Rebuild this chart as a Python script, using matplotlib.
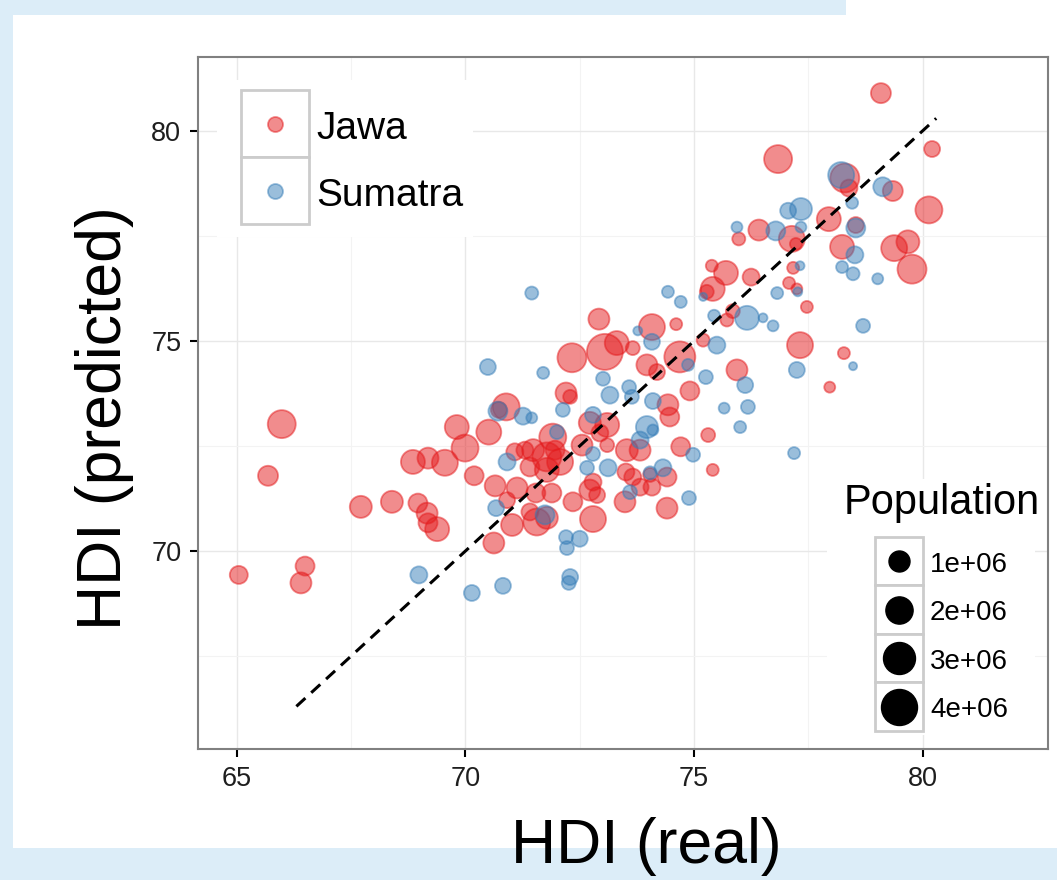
import numpy as np
import matplotlib
matplotlib.use("Agg")
import matplotlib.pyplot as plt
from matplotlib.patches import Rectangle

plt.rcParams['font.family'] = ['Liberation Sans', 'DejaVu Sans']

# HDI real vs predicted per district, population in millions
jawa_real = [65.98, 65.68, 67.71, 68.39, 65.04, 66.49, 66.40, 68.96, 69.16, 69.18,
             69.38, 68.85, 69.18, 69.55, 69.99, 69.81, 70.19, 70.51, 70.89, 70.73,
             72.20, 72.29, 70.65, 70.62, 71.13, 70.91, 71.02, 71.56, 71.41, 71.54,
             71.89, 71.78, 71.08, 71.48, 71.91, 71.78, 72.07, 71.41, 71.78, 71.30,
             71.96, 72.35, 72.79, 72.72, 72.79, 72.88, 72.72, 73.10, 72.94, 72.55,
             73.10, 73.53, 73.82, 73.51, 73.66, 73.49, 73.82, 72.92, 72.33, 73.05,
             73.31, 73.66, 73.97, 74.08, 74.61, 74.19, 74.69, 75.20, 74.43, 74.47,
             74.91, 74.71, 75.31, 75.41, 74.04, 74.41, 74.08, 74.41, 75.39, 75.70,
             76.25, 75.41, 75.28, 75.72, 75.85, 75.94, 77.32, 78.28, 77.97, 77.47,
             77.17, 77.08, 77.25, 75.98, 76.42, 77.14, 77.23, 77.95, 78.24, 78.54,
             78.30, 78.39, 76.84, 79.09, 80.21, 79.35, 80.14, 79.38, 79.68, 79.77]
jawa_pred = [73.02, 71.79, 71.05, 71.17, 69.43, 69.64, 69.24, 71.14, 70.90, 70.67,
             70.52, 72.12, 72.21, 72.10, 72.45, 72.95, 71.79, 72.83, 73.43, 73.36,
             73.76, 73.67, 71.55, 70.19, 71.50, 71.21, 70.62, 70.69, 70.93, 71.38,
             71.38, 70.79, 72.36, 72.40, 72.71, 72.24, 72.12, 72.00, 71.93, 72.40,
             72.40, 71.17, 70.76, 71.45, 71.64, 71.33, 73.05, 73.00, 72.81, 72.52,
             72.52, 72.40, 72.40, 71.88, 71.76, 71.17, 71.52, 75.52, 74.60, 74.74,
             74.95, 74.83, 74.43, 75.33, 75.40, 74.26, 74.62, 75.02, 73.48, 73.19,
             73.81, 72.48, 72.76, 71.93, 71.81, 71.76, 71.52, 71.02, 76.79, 76.62,
             76.52, 76.24, 76.17, 75.50, 75.71, 74.31, 74.90, 74.71, 73.90, 75.81,
             76.74, 76.38, 76.24, 77.43, 77.64, 77.43, 77.31, 77.90, 77.24, 77.76,
             78.88, 78.64, 79.33, 80.90, 79.57, 78.57, 78.12, 77.21, 77.36, 76.71]
jawa_pop = [2.15, 0.87, 1.14, 1.14, 0.64, 0.75, 1.00, 0.75, 1.00, 0.75,
            1.44, 1.44, 1.00, 1.78, 1.96, 1.44, 0.75, 1.60, 1.96, 0.44,
            1.00, 0.28, 1.00, 1.00, 1.00, 0.44, 1.14, 1.96, 0.54, 0.75,
            0.75, 1.14, 0.54, 1.14, 1.96, 2.35, 1.78, 0.75, 1.44, 0.54,
            0.75, 0.75, 1.78, 1.00, 0.54, 0.44, 1.14, 1.44, 0.54, 1.00,
            0.28, 1.14, 1.00, 0.54, 0.54, 1.00, 0.54, 1.00, 2.35, 4.00,
            1.44, 0.28, 1.00, 1.78, 0.16, 0.44, 2.78, 0.22, 1.00, 0.75,
            0.75, 0.75, 0.28, 0.16, 0.28, 0.75, 0.54, 1.00, 0.16, 1.44,
            0.54, 1.44, 0.28, 0.22, 0.28, 1.00, 1.78, 0.16, 0.11, 0.16,
            0.16, 0.16, 0.11, 0.22, 1.00, 1.78, 0.16, 1.44, 1.44, 0.44,
            2.35, 0.54, 2.15, 0.87, 0.44, 0.87, 1.96, 1.78, 1.28, 2.35]

sumatra_real = [71.45, 70.49, 71.70, 73.01, 73.16, 73.58, 73.64, 72.13, 70.71, 71.26,
                71.45, 72.79, 72.00, 70.91, 70.67, 72.20, 72.50, 72.22, 72.29, 72.26,
                68.98, 70.14, 70.82, 72.66, 72.79, 73.12, 73.97, 73.82, 74.10, 74.10,
                73.60, 74.32, 74.04, 74.89, 74.98, 75.66, 76.18, 76.01, 77.19, 76.12,
                75.26, 75.50, 74.87, 74.08, 73.77, 74.43, 74.71, 75.20, 75.44, 76.16,
                76.51, 76.73, 76.82, 77.27, 77.32, 75.94, 76.79, 77.06, 77.34, 77.34,
                78.22, 78.46, 78.54, 78.52, 78.24, 78.48, 79.13, 79.02, 78.70, 78.48,
                77.25, 71.74]
sumatra_pred = [76.14, 74.38, 74.24, 74.10, 73.71, 73.90, 73.67, 73.36, 73.33, 73.21,
                73.17, 73.24, 72.83, 72.12, 71.02, 70.33, 70.29, 70.07, 69.38, 69.24,
                69.43, 69.00, 69.17, 71.98, 72.31, 71.98, 72.95, 72.64, 72.88, 73.57,
                71.40, 71.98, 71.86, 71.26, 72.29, 73.40, 73.43, 72.95, 72.33, 73.95,
                74.14, 74.90, 74.43, 74.98, 75.24, 76.17, 75.93, 76.05, 75.60, 75.55,
                75.55, 75.36, 76.14, 76.17, 76.79, 77.71, 77.62, 78.10, 78.14, 77.71,
                78.95, 78.29, 77.69, 77.05, 76.76, 76.60, 78.67, 76.48, 75.36, 74.40,
                74.31, 70.86]
sumatra_pop = [0.22, 0.44, 0.16, 0.28, 0.54, 0.28, 0.28, 0.28, 0.75, 0.54,
               0.11, 0.44, 0.28, 0.54, 0.44, 0.28, 0.44, 0.28, 0.44, 0.28,
               0.54, 0.44, 0.44, 0.28, 0.28, 0.54, 1.14, 0.54, 0.11, 0.44,
               0.28, 0.54, 0.22, 0.28, 0.28, 0.11, 0.28, 0.16, 0.16, 0.44,
               0.28, 0.54, 0.16, 0.44, 0.04, 0.16, 0.16, 0.02, 0.16, 1.44,
               0.04, 0.11, 0.16, 0.04, 0.04, 0.11, 0.75, 0.44, 1.14, 0.11,
               1.78, 0.16, 0.75, 0.54, 0.16, 0.22, 0.75, 0.11, 0.28, 0.02,
               0.44, 0.75]

# range of the y = x reference line
diag_range = [66.3, 80.3]

size_breaks = [1e6, 2e6, 3e6, 4e6]
size_labels = ['1e+06', '2e+06', '3e+06', '4e+06']

JAWA = '#E41A1C'
SUMATRA = '#377EB8'


def bubble_area(pop_m):
    # diameter in pixels grows with sqrt(population), converted to pt^2
    d = 6 + 15 * np.sqrt(np.asarray(pop_m, dtype=float))
    return (d * 0.72) ** 2


fig = plt.figure(figsize=(10.57, 8.8), dpi=100)
fig.patch.set_facecolor('white')

# pale blue slide background around the white card
bg = '#dcedf8'
for x0, y0, w, h in [(0, 0, 0.012, 1), (0, 0.983, 0.80, 0.017), (0, 0, 1, 0.036)]:
    fig.patches.append(Rectangle((x0, y0), w, h, transform=fig.transFigure,
                                 facecolor=bg, edgecolor='none', zorder=-10))

ax = fig.add_axes([0.1873, 0.1489, 0.8042, 0.7864])
ax.set_xlim(64.147, 82.746)
ax.set_ylim(65.286, 81.762)

ax.set_xticks([65, 70, 75, 80])
ax.set_yticks([70, 75, 80])
ax.set_xticks([67.5, 72.5, 77.5], minor=True)
ax.set_yticks([67.5, 72.5, 77.5], minor=True)
ax.grid(which='major', color='#e8e8e8', lw=1.0, zorder=0)
ax.grid(which='minor', color='#f3f3f3', lw=0.8, zorder=0)
ax.set_axisbelow(True)
for sp in ax.spines.values():
    sp.set_color('#808080')
    sp.set_linewidth(1.5)
ax.tick_params(which='major', length=6, width=1.5, color='black',
               labelsize=19.5, labelcolor='#1e1e1e', pad=6)
ax.tick_params(which='minor', length=0)

ax.scatter(jawa_real, jawa_pred, s=bubble_area(jawa_pop), c=JAWA,
           edgecolors=JAWA, linewidths=1.3, alpha=0.5, zorder=3)
ax.scatter(sumatra_real, sumatra_pred, s=bubble_area(sumatra_pop), c=SUMATRA,
           edgecolors=SUMATRA, linewidths=1.3, alpha=0.5, zorder=3)

ax.plot(diag_range, diag_range, color='black', lw=2.2, ls=(0, (4, 2.6)), zorder=4)

ax.set_xlabel('HDI (real)', fontsize=45)
ax.set_ylabel('HDI (predicted)', fontsize=45)
ax.xaxis.set_label_coords(0.528, -0.098)
ax.yaxis.set_label_coords(-0.075, 0.478)

# region legend with ggplot style key boxes
T = ax.transAxes
key_marker = (15 * 0.72) ** 2
ax.add_patch(Rectangle((0.022, 0.74), 0.302, 0.227, transform=T,
                       facecolor='white', edgecolor='none', zorder=5))
for i, (name, col) in enumerate([('Jawa', JAWA), ('Sumatra', SUMATRA)]):
    yc = 0.903 - i * 0.0965
    ax.add_patch(Rectangle((0.0506, yc - 0.048), 0.08, 0.0965, transform=T,
                           facecolor='white', edgecolor='#cccccc', lw=2, zorder=6))
    ax.scatter([0.0906], [yc], transform=T, s=key_marker, c=col,
               edgecolors=col, linewidths=1.3, alpha=0.5, zorder=7)
    ax.text(0.139, yc - 0.007, name, transform=T, fontsize=28, va='center',
            ha='left', zorder=7)

# population legend
ax.add_patch(Rectangle((0.74, 0.02), 0.245, 0.37, transform=T,
                       facecolor='white', edgecolor='none', zorder=5))
ax.text(0.759, 0.356, 'Population', transform=T, fontsize=30, va='center',
        ha='left', zorder=7)
for i, (val, lab) in enumerate(zip(size_breaks, size_labels)):
    top = 0.3064 - i * 0.0701
    ax.add_patch(Rectangle((0.7965, top - 0.0701), 0.0565, 0.0701, transform=T,
                           facecolor='white', edgecolor='#cccccc', lw=2, zorder=6))
    ax.scatter([0.8247], [top - 0.035], transform=T, s=bubble_area(val / 1e6),
               c='black', edgecolors='black', linewidths=1.0, zorder=7)
    ax.text(0.8612, top - 0.04, lab, transform=T, fontsize=20, va='center',
            ha='left', zorder=7)

fig.savefig('out.png', dpi=100, facecolor=fig.get_facecolor())
